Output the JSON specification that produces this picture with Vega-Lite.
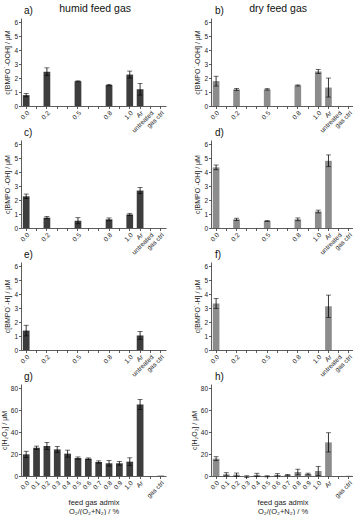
{
  "$schema": "https://vega.github.io/schema/vega-lite/v6.json",
  "padding": {"left": 0, "top": 3, "right": 3, "bottom": 0},
  "config": {
    "font": "Liberation Sans",
    "view": {"stroke": null},
    "axis": {"grid": false, "domainColor": "#333333", "tickColor": "#333333", "labelColor": "#222222", "titleColor": "#222222", "labelFontSize": 6.5, "titleFontSize": 7, "titleFontWeight": "normal", "tickSize": 2.5, "labelPadding": 1, "domainWidth": 0.8, "tickWidth": 0.8, "titlePadding": 3},
    "axisX": {"labelAngle": -45},
    "title": {"fontWeight": "normal", "color": "#111111"}
  },
  "data": {"values": [
    {"p": "a", "x": "0.0", "v": 0.78, "e": 0.12},
    {"p": "a", "x": "0.2", "v": 2.45, "e": 0.28},
    {"p": "a", "x": "0.5", "v": 1.77, "e": 0.03},
    {"p": "a", "x": "0.8", "v": 1.5, "e": 0.05},
    {"p": "a", "x": "1.0", "v": 2.25, "e": 0.25},
    {"p": "a", "x": "Ar", "v": 1.2, "e": 0.42},
    {"p": "b", "x": "0.0", "v": 1.78, "e": 0.35},
    {"p": "b", "x": "0.2", "v": 1.19, "e": 0.07},
    {"p": "b", "x": "0.5", "v": 1.19, "e": 0.05},
    {"p": "b", "x": "0.8", "v": 1.47, "e": 0.04},
    {"p": "b", "x": "1.0", "v": 2.47, "e": 0.15},
    {"p": "b", "x": "Ar", "v": 1.32, "e": 0.68},
    {"p": "c", "x": "0.0", "v": 2.27, "e": 0.16},
    {"p": "c", "x": "0.2", "v": 0.74, "e": 0.08},
    {"p": "c", "x": "0.5", "v": 0.52, "e": 0.22},
    {"p": "c", "x": "0.8", "v": 0.62, "e": 0.1},
    {"p": "c", "x": "1.0", "v": 0.97, "e": 0.08},
    {"p": "c", "x": "Ar", "v": 2.68, "e": 0.22},
    {"p": "d", "x": "0.0", "v": 4.34, "e": 0.17},
    {"p": "d", "x": "0.2", "v": 0.62, "e": 0.08},
    {"p": "d", "x": "0.5", "v": 0.5, "e": 0.03},
    {"p": "d", "x": "0.8", "v": 0.62, "e": 0.1},
    {"p": "d", "x": "1.0", "v": 1.18, "e": 0.1},
    {"p": "d", "x": "Ar", "v": 4.81, "e": 0.42},
    {"p": "e", "x": "0.0", "v": 1.39, "e": 0.38},
    {"p": "e", "x": "Ar", "v": 1.04, "e": 0.28},
    {"p": "f", "x": "0.0", "v": 3.33, "e": 0.35},
    {"p": "f", "x": "Ar", "v": 3.13, "e": 0.8},
    {"p": "g", "x": "0.0", "v": 19.8, "e": 2.8},
    {"p": "g", "x": "0.1", "v": 25.8, "e": 1.5},
    {"p": "g", "x": "0.2", "v": 27.4, "e": 3.3},
    {"p": "g", "x": "0.3", "v": 24.3, "e": 2.7},
    {"p": "g", "x": "0.4", "v": 20.4, "e": 3.2},
    {"p": "g", "x": "0.5", "v": 16.4, "e": 1.0},
    {"p": "g", "x": "0.6", "v": 15.8, "e": 0.7},
    {"p": "g", "x": "0.7", "v": 12.8, "e": 1.0},
    {"p": "g", "x": "0.8", "v": 11.6, "e": 2.5},
    {"p": "g", "x": "0.9", "v": 11.6, "e": 1.7},
    {"p": "g", "x": "1.0", "v": 13.1, "e": 3.5},
    {"p": "g", "x": "Ar", "v": 65.3, "e": 4.5},
    {"p": "g", "x": "gas ctrl", "v": 0.3, "e": 0},
    {"p": "h", "x": "0.0", "v": 15.8, "e": 1.8},
    {"p": "h", "x": "0.1", "v": 1.5, "e": 1.5},
    {"p": "h", "x": "0.2", "v": 1.2, "e": 1.5},
    {"p": "h", "x": "0.3", "v": -0.6, "e": 0.8},
    {"p": "h", "x": "0.4", "v": 1.0, "e": 1.5},
    {"p": "h", "x": "0.5", "v": -0.3, "e": 0.5},
    {"p": "h", "x": "0.6", "v": 1.0, "e": 1.2},
    {"p": "h", "x": "0.7", "v": 0.8, "e": 0.6},
    {"p": "h", "x": "0.8", "v": 3.6, "e": 2.6},
    {"p": "h", "x": "0.9", "v": 1.8, "e": 0.8},
    {"p": "h", "x": "1.0", "v": 4.6, "e": 4.2},
    {"p": "h", "x": "Ar", "v": 30.7, "e": 8.8},
    {"p": "h", "x": "gas ctrl", "v": 0.2, "e": 0}
  ]},
  "hconcat": [
    {
      "title": {"text": "humid feed gas", "anchor": "middle", "fontSize": 10.5, "offset": -8, "dx": 12},
      "bounds": "flush",
      "spacing": 34,
      "vconcat": [
        {
          "title": {"text": "a)", "anchor": "start", "frame": "group", "fontSize": 10, "offset": 2, "dx": 3},
          "width": 145, "height": 88,
          "transform": [{"filter": "datum.p == 'a'"}],
          "encoding": {
            "x": {"field": "x", "type": "nominal", "scale": {"domain": ["0.0","0.1","0.2","0.3","0.4","0.5","0.6","0.7","0.8","0.9","1.0","Ar","untreated","gas ctrl"], "paddingInner": 0.35, "paddingOuter": 0.175}, "axis": {"title": null, "labelExpr": "indexof(['0.1','0.3','0.4','0.6','0.7','0.9'], datum.value) >= 0 ? '' : datum.value"}},
            "y": {"field": "v", "type": "quantitative", "scale": {"domain": [0, 6.3]}, "axis": {"title": "c[BMPO˙-OOH] / μM", "values": [0,1,2,3,4,5,6]}}
          },
          "layer": [
            {"mark": {"type": "bar", "color": "#3d3d3d"}},
            {"transform": [{"filter": "datum.e > 0"}], "mark": {"type": "errorbar", "ticks": {"size": 5}, "color": "#000000", "thickness": 0.8}, "encoding": {"yError": {"field": "e"}}}
          ]
        },
        {
          "title": {"text": "c)", "anchor": "start", "frame": "group", "fontSize": 10, "offset": 2, "dx": 3},
          "width": 145, "height": 88,
          "transform": [{"filter": "datum.p == 'c'"}],
          "encoding": {
            "x": {"field": "x", "type": "nominal", "scale": {"domain": ["0.0","0.1","0.2","0.3","0.4","0.5","0.6","0.7","0.8","0.9","1.0","Ar","untreated","gas ctrl"], "paddingInner": 0.35, "paddingOuter": 0.175}, "axis": {"title": null, "labelExpr": "indexof(['0.1','0.3','0.4','0.6','0.7','0.9'], datum.value) >= 0 ? '' : datum.value"}},
            "y": {"field": "v", "type": "quantitative", "scale": {"domain": [0, 6.3]}, "axis": {"title": "c[BMPO˙-OH] / μM", "values": [0,1,2,3,4,5,6]}}
          },
          "layer": [
            {"mark": {"type": "bar", "color": "#3d3d3d"}},
            {"transform": [{"filter": "datum.e > 0"}], "mark": {"type": "errorbar", "ticks": {"size": 5}, "color": "#000000", "thickness": 0.8}, "encoding": {"yError": {"field": "e"}}}
          ]
        },
        {
          "title": {"text": "e)", "anchor": "start", "frame": "group", "fontSize": 10, "offset": 2, "dx": 3},
          "width": 145, "height": 88,
          "transform": [{"filter": "datum.p == 'e'"}],
          "encoding": {
            "x": {"field": "x", "type": "nominal", "scale": {"domain": ["0.0","0.1","0.2","0.3","0.4","0.5","0.6","0.7","0.8","0.9","1.0","Ar","untreated","gas ctrl"], "paddingInner": 0.35, "paddingOuter": 0.175}, "axis": {"title": null, "labelExpr": "indexof(['0.1','0.3','0.4','0.6','0.7','0.9'], datum.value) >= 0 ? '' : datum.value"}},
            "y": {"field": "v", "type": "quantitative", "scale": {"domain": [0, 6.3]}, "axis": {"title": "c[BMPO˙-H] / μM", "values": [0,1,2,3,4,5,6]}}
          },
          "layer": [
            {"mark": {"type": "bar", "color": "#3d3d3d"}},
            {"transform": [{"filter": "datum.e > 0"}], "mark": {"type": "errorbar", "ticks": {"size": 5}, "color": "#000000", "thickness": 0.8}, "encoding": {"yError": {"field": "e"}}}
          ]
        },
        {
          "title": {"text": "g)", "anchor": "start", "frame": "group", "fontSize": 10, "offset": 2, "dx": 3},
          "width": 145, "height": 92,
          "transform": [{"filter": "datum.p == 'g'"}],
          "encoding": {
            "x": {"field": "x", "type": "nominal", "scale": {"domain": ["0.0","0.1","0.2","0.3","0.4","0.5","0.6","0.7","0.8","0.9","1.0","Ar","untreated","gas ctrl"], "paddingInner": 0.35, "paddingOuter": 0.175}, "axis": {"title": ["feed gas admix", "O₂/(O₂+N₂) / %"], "titleFontSize": 7.5, "titleLineHeight": 9, "titleY": 22, "titleBaseline": "top", "labelExpr": "datum.value == 'untreated' ? '' : datum.value"}},
            "y": {"field": "v", "type": "quantitative", "scale": {"domain": [0, 84]}, "axis": {"title": "c[H₂O₂] / μM", "values": [0,20,40,60,80]}}
          },
          "layer": [
            {"mark": {"type": "bar", "color": "#3d3d3d"}},
            {"transform": [{"filter": "datum.e > 0"}], "mark": {"type": "errorbar", "ticks": {"size": 5}, "color": "#000000", "thickness": 0.8}, "encoding": {"yError": {"field": "e"}}}
          ]
        }
      ]
    },
    {
      "title": {"text": "dry  feed gas", "anchor": "middle", "fontSize": 10.5, "offset": -8, "dx": 6},
      "bounds": "flush",
      "spacing": 34,
      "vconcat": [
        {
          "title": {"text": "b)", "anchor": "start", "frame": "group", "fontSize": 10, "offset": 2, "dx": 4},
          "width": 143, "height": 88,
          "transform": [{"filter": "datum.p == 'b'"}],
          "encoding": {
            "x": {"field": "x", "type": "nominal", "scale": {"domain": ["0.0","0.1","0.2","0.3","0.4","0.5","0.6","0.7","0.8","0.9","1.0","Ar","untreated","gas ctrl"], "paddingInner": 0.35, "paddingOuter": 0.175}, "axis": {"title": null, "labelExpr": "indexof(['0.1','0.3','0.4','0.6','0.7','0.9'], datum.value) >= 0 ? '' : datum.value"}},
            "y": {"field": "v", "type": "quantitative", "scale": {"domain": [0, 6.3]}, "axis": {"title": "c[BMPO˙-OOH] / μM", "values": [0,1,2,3,4,5,6]}}
          },
          "layer": [
            {"mark": {"type": "bar", "color": "#8c8c8c"}},
            {"transform": [{"filter": "datum.e > 0"}], "mark": {"type": "errorbar", "ticks": {"size": 5}, "color": "#000000", "thickness": 0.8}, "encoding": {"yError": {"field": "e"}}}
          ]
        },
        {
          "title": {"text": "d)", "anchor": "start", "frame": "group", "fontSize": 10, "offset": 2, "dx": 4},
          "width": 143, "height": 88,
          "transform": [{"filter": "datum.p == 'd'"}],
          "encoding": {
            "x": {"field": "x", "type": "nominal", "scale": {"domain": ["0.0","0.1","0.2","0.3","0.4","0.5","0.6","0.7","0.8","0.9","1.0","Ar","untreated","gas ctrl"], "paddingInner": 0.35, "paddingOuter": 0.175}, "axis": {"title": null, "labelExpr": "indexof(['0.1','0.3','0.4','0.6','0.7','0.9'], datum.value) >= 0 ? '' : datum.value"}},
            "y": {"field": "v", "type": "quantitative", "scale": {"domain": [0, 6.3]}, "axis": {"title": "c[BMPO˙-OH] / μM", "values": [0,1,2,3,4,5,6]}}
          },
          "layer": [
            {"mark": {"type": "bar", "color": "#8c8c8c"}},
            {"transform": [{"filter": "datum.e > 0"}], "mark": {"type": "errorbar", "ticks": {"size": 5}, "color": "#000000", "thickness": 0.8}, "encoding": {"yError": {"field": "e"}}}
          ]
        },
        {
          "title": {"text": "f)", "anchor": "start", "frame": "group", "fontSize": 10, "offset": 2, "dx": 4},
          "width": 143, "height": 88,
          "transform": [{"filter": "datum.p == 'f'"}],
          "encoding": {
            "x": {"field": "x", "type": "nominal", "scale": {"domain": ["0.0","0.1","0.2","0.3","0.4","0.5","0.6","0.7","0.8","0.9","1.0","Ar","untreated","gas ctrl"], "paddingInner": 0.35, "paddingOuter": 0.175}, "axis": {"title": null, "labelExpr": "indexof(['0.1','0.3','0.4','0.6','0.7','0.9'], datum.value) >= 0 ? '' : datum.value"}},
            "y": {"field": "v", "type": "quantitative", "scale": {"domain": [0, 6.3]}, "axis": {"title": "c[BMPO˙-H] / μM", "values": [0,1,2,3,4,5,6]}}
          },
          "layer": [
            {"mark": {"type": "bar", "color": "#8c8c8c"}},
            {"transform": [{"filter": "datum.e > 0"}], "mark": {"type": "errorbar", "ticks": {"size": 5}, "color": "#000000", "thickness": 0.8}, "encoding": {"yError": {"field": "e"}}}
          ]
        },
        {
          "title": {"text": "h)", "anchor": "start", "frame": "group", "fontSize": 10, "offset": 2, "dx": 4},
          "width": 143, "height": 92,
          "transform": [{"filter": "datum.p == 'h'"}],
          "encoding": {
            "x": {"field": "x", "type": "nominal", "scale": {"domain": ["0.0","0.1","0.2","0.3","0.4","0.5","0.6","0.7","0.8","0.9","1.0","Ar","untreated","gas ctrl"], "paddingInner": 0.35, "paddingOuter": 0.175}, "axis": {"title": ["feed gas admix", "O₂/(O₂+N₂) / %"], "titleFontSize": 7.5, "titleLineHeight": 9, "titleY": 22, "titleBaseline": "top", "labelExpr": "datum.value == 'untreated' ? '' : datum.value"}},
            "y": {"field": "v", "type": "quantitative", "scale": {"domain": [0, 84]}, "axis": {"title": "c[H₂O₂] / μM", "values": [0,20,40,60,80]}}
          },
          "layer": [
            {"mark": {"type": "bar", "color": "#8c8c8c"}},
            {"transform": [{"filter": "datum.e > 0"}], "mark": {"type": "errorbar", "ticks": {"size": 5}, "color": "#000000", "thickness": 0.8}, "encoding": {"yError": {"field": "e"}}}
          ]
        }
      ]
    }
  ],
  "spacing": 24
}
